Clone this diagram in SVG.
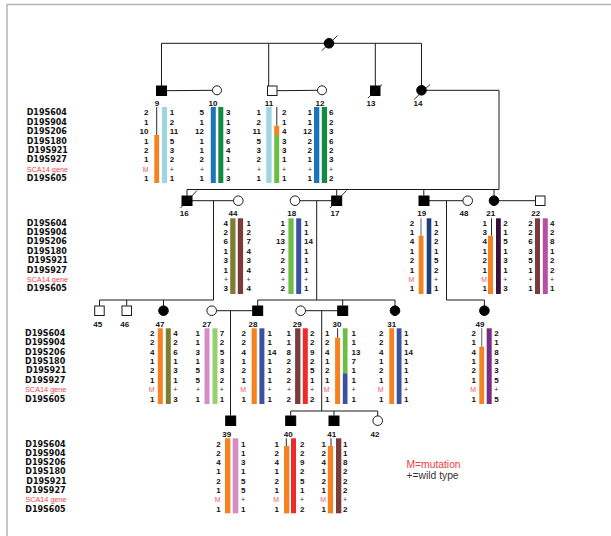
<svg xmlns="http://www.w3.org/2000/svg" width="611" height="536" viewBox="0 0 611 536">
<style>
.ln{stroke:#1a1a1a;stroke-width:1;fill:none}
.aff{fill:#000;stroke:#000;stroke-width:1}
.un{fill:#fff;stroke:#1a1a1a;stroke-width:1}
.sl{stroke:#1a1a1a;stroke-width:0.9}
.thin{stroke:#2a2a2a;stroke-width:1}
.thg{stroke:#777;stroke-width:1.2}
.lab{font-family:"DejaVu Sans",sans-serif;font-weight:bold;font-size:8px;fill:#111}
.sca{font-family:"Liberation Sans",Arial,sans-serif;font-size:7.3px;fill:#f04a4a;font-weight:normal}
.n{font-family:"Liberation Sans",Arial,sans-serif;font-weight:bold;font-size:8px;fill:#111}
.e{text-anchor:end}
.m{font-weight:normal;fill:#f25a5a;font-size:7px}
.p{font-weight:normal;font-size:7px;fill:#333}
.id{font-family:"Liberation Sans",Arial,sans-serif;font-weight:bold;font-size:8px;fill:#111;text-anchor:middle}
.leg{font-family:"Liberation Sans",Arial,sans-serif;font-size:10.3px}
.or{fill:#f5821f}.lb{fill:#9dd5e3}.bl{fill:#1b75bb}.dg{fill:#128a43}.gr{fill:#6cbd45}
.ol{fill:#7d7d32}.br{fill:#7b3b3b}.nb{fill:#3a50a0}.nv{fill:#1d3f7a}.dp{fill:#3b0f3b}
.mg{fill:#b550a5}.pk{fill:#d48ec4}.lg{fill:#96d070}.rd{fill:#ee2a2a}.pu{fill:#7a2c85}
</style>
<path d="M7,536 V4.5 H611" fill="none" stroke="#b4b4b4" stroke-width="1.5"/>

<g id="connectors" class="ln">
<path d="M161.5,43.3 H421.5"/>
<path d="M161.5,43.3 V86"/>
<path d="M268.7,43.3 V86"/>
<path d="M375.3,43.3 V86"/>
<path d="M421.5,43.3 V85.5"/>
<path d="M166,90.7 L212.5,90.3"/>
<path d="M277,90.7 L317.5,90.3"/>
<path d="M426,90.3 H499 V189.5"/>
<path d="M187,189.5 H499"/>
<path d="M187,189.5 V195.7"/>
<path d="M336.7,189.5 V195.7"/>
<path d="M423.8,189.5 V195.7"/>
<path d="M494,189.5 V196"/>
<path d="M192,200.7 H233.5"/>
<path d="M213.5,200.7 V300"/>
<path d="M300,200.7 H331.7"/>
<path d="M316.7,200.7 V300"/>
<path d="M429,200.7 H463"/>
<path d="M446.5,200.7 V300 H484.4 V306"/>
<path d="M499,200.7 H535.3"/>
<path d="M99.5,300 H213.5"/>
<path d="M99.5,300 V305.7"/>
<path d="M126.7,300 V305.7"/>
<path d="M163.5,300 V306"/>
<path d="M257.7,300 H395"/>
<path d="M257.7,300 V305.7"/>
<path d="M342.7,300 V305.7"/>
<path d="M395,300 V306"/>
<path d="M216.5,310.7 H252.7"/>
<path d="M230.5,310.7 V415.7"/>
<path d="M305.5,310.7 H337.7"/>
<path d="M321.7,310.7 V411"/>
<path d="M290.7,411 H377.7"/>
<path d="M290.7,411 V415.7"/>
<path d="M334,411 V415.7"/>
<path d="M377.7,411 V416"/>
</g>

<g id="labels-g1" class="lab">
<text x="26.7" y="115.4">D19S604</text>
<text x="26.7" y="124.8">D19S904</text>
<text x="26.7" y="134.2">D19S206</text>
<text x="26.7" y="143.6">D19S180</text>
<text x="27.7" y="153">D19S921</text>
<text x="26.7" y="162.4">D19S927</text>
<text class="sca" x="26.7" y="171.8">SCA14 gene</text>
<text x="26.7" y="181.2">D19S605</text>
</g>
<g id="labels-g2" class="lab">
<text x="26.7" y="225.6">D19S604</text>
<text x="26.7" y="235">D19S904</text>
<text x="26.7" y="244.4">D19S206</text>
<text x="26.7" y="253.8">D19S180</text>
<text x="27.7" y="263.2">D19S921</text>
<text x="26.7" y="272.6">D19S927</text>
<text class="sca" x="26.7" y="282">SCA14 gene</text>
<text x="26.7" y="291.4">D19S605</text>
</g>
<g id="labels-g3" class="lab">
<text x="25" y="335.8">D19S604</text>
<text x="25" y="345.2">D19S904</text>
<text x="25" y="354.6">D19S206</text>
<text x="25" y="364">D19S180</text>
<text x="26" y="373.4">D19S921</text>
<text x="25" y="382.8">D19S927</text>
<text class="sca" x="25" y="392.2">SCA14 gene</text>
<text x="25" y="401.6">D19S605</text>
</g>
<g id="labels-g4" class="lab">
<text x="25.3" y="446.5">D19S604</text>
<text x="25.3" y="455.8">D19S904</text>
<text x="25.3" y="465.1">D19S206</text>
<text x="25.3" y="474.4">D19S180</text>
<text x="26.3" y="483.7">D19S921</text>
<text x="25.3" y="493">D19S927</text>
<text class="sca" x="25.3" y="502.3">SCA14 gene</text>
<text x="25.3" y="511.6">D19S605</text>
</g>

<g id="node-founder">
<circle class="aff" cx="329" cy="43.3" r="4.8"/>
<line class="sl" x1="321.7" y1="50.7" x2="337.3" y2="35.7"/>
</g>

<g id="node-9">
<rect class="aff" x="156.5" y="86" width="10" height="9.5"/>
<text class="id" x="157" y="106">9</text>
<rect class="or" x="154.3" y="135" width="4.8" height="48"/>
<line class="thin" x1="156.7" y1="107" x2="156.7" y2="135"/>
<rect class="lb" x="162" y="107" width="5" height="76"/>
<text class="n e"><tspan x="148.5" y="115.4">2</tspan><tspan x="148.5" dy="9.4">1</tspan><tspan x="148.5" dy="9.4">10</tspan><tspan x="148.5" dy="9.4">1</tspan><tspan x="148.5" dy="9.4">2</tspan><tspan x="148.5" dy="9.4">1</tspan><tspan class="m" x="148.5" dy="9.4">M</tspan><tspan x="148.5" dy="9.4">1</tspan></text>
<text class="n"><tspan x="169.8" y="115.4">1</tspan><tspan x="169.8" dy="9.4">2</tspan><tspan x="169.8" dy="9.4">11</tspan><tspan x="169.8" dy="9.4">5</tspan><tspan x="169.8" dy="9.4">3</tspan><tspan x="169.8" dy="9.4">2</tspan><tspan class="p" x="169.8" dy="9.4">+</tspan><tspan x="169.8" dy="9.4">1</tspan></text>
</g>

<g id="node-10">
<circle class="un" cx="217" cy="90.3" r="4.5"/>
<text class="id" x="213" y="106">10</text>
<rect class="bl" x="210.8" y="107" width="5" height="76"/>
<rect class="dg" x="218.3" y="107" width="5" height="76"/>
<text class="n e"><tspan x="204" y="115.4">5</tspan><tspan x="204" dy="9.4">1</tspan><tspan x="204" dy="9.4">12</tspan><tspan x="204" dy="9.4">1</tspan><tspan x="204" dy="9.4">1</tspan><tspan x="204" dy="9.4">2</tspan><tspan class="p" x="204" dy="9.4">+</tspan><tspan x="204" dy="9.4">1</tspan></text>
<text class="n"><tspan x="226" y="115.4">3</tspan><tspan x="226" dy="9.4">1</tspan><tspan x="226" dy="9.4">3</tspan><tspan x="226" dy="9.4">6</tspan><tspan x="226" dy="9.4">4</tspan><tspan x="226" dy="9.4">1</tspan><tspan class="p" x="226" dy="9.4">+</tspan><tspan x="226" dy="9.4">3</tspan></text>
</g>

<g id="node-11">
<rect class="un" x="267.5" y="86" width="9.5" height="9.5"/>
<text class="id" x="269" y="106">11</text>
<rect class="lb" x="266.3" y="107" width="5.3" height="76"/>
<line class="thin" x1="276.8" y1="107" x2="276.8" y2="125.7"/>
<rect class="or" x="274.2" y="125.7" width="5" height="9.3"/>
<rect class="gr" x="274.2" y="135" width="5" height="48"/>
<text class="n e"><tspan x="261" y="115.4">1</tspan><tspan x="261" dy="9.4">2</tspan><tspan x="261" dy="9.4">11</tspan><tspan x="261" dy="9.4">5</tspan><tspan x="261" dy="9.4">3</tspan><tspan x="261" dy="9.4">2</tspan><tspan class="p" x="261" dy="9.4">+</tspan><tspan x="261" dy="9.4">1</tspan></text>
<text class="n"><tspan x="282" y="115.4">2</tspan><tspan x="282" dy="9.4">1</tspan><tspan x="282" dy="9.4">4</tspan><tspan x="282" dy="9.4">3</tspan><tspan x="282" dy="9.4">3</tspan><tspan x="282" dy="9.4">1</tspan><tspan class="p" x="282" dy="9.4">+</tspan><tspan x="282" dy="9.4">1</tspan></text>
</g>

<g id="node-12">
<circle class="un" cx="322" cy="90.3" r="4.5"/>
<text class="id" x="320" y="106">12</text>
<rect class="bl" x="314" y="107" width="5.3" height="76"/>
<rect class="dg" x="321.8" y="107" width="5.3" height="76"/>
<text class="n e"><tspan x="312" y="115.4">1</tspan><tspan x="312" dy="9.4">1</tspan><tspan x="312" dy="9.4">12</tspan><tspan x="312" dy="9.4">2</tspan><tspan x="312" dy="9.4">2</tspan><tspan x="312" dy="9.4">1</tspan><tspan class="p" x="312" dy="9.4">+</tspan><tspan x="312" dy="9.4">1</tspan></text>
<text class="n"><tspan x="329" y="115.4">6</tspan><tspan x="329" dy="9.4">2</tspan><tspan x="329" dy="9.4">3</tspan><tspan x="329" dy="9.4">6</tspan><tspan x="329" dy="9.4">2</tspan><tspan x="329" dy="9.4">3</tspan><tspan class="p" x="329" dy="9.4">+</tspan><tspan x="329" dy="9.4">2</tspan></text>
</g>

<g id="node-13">
<rect class="aff" x="370.5" y="86" width="9.5" height="9.5"/>
<line class="sl" x1="368" y1="98" x2="382" y2="84.5"/>
<text class="id" x="371" y="106">13</text>
</g>

<g id="node-14">
<circle class="aff" cx="421.5" cy="90.3" r="4.8"/>
<line class="sl" x1="414" y1="99.5" x2="430" y2="84.5"/>
<text class="id" x="418" y="106">14</text>
</g>

<g id="node-16">
<rect class="aff" x="182" y="196" width="10" height="9.5"/>
<line class="sl" x1="180.5" y1="208" x2="197" y2="190.5"/>
<text class="id" x="184.3" y="216">16</text>
</g>

<g id="node-44">
<circle class="un" cx="238.3" cy="200.7" r="4.8"/>
<text class="id" x="233" y="215.6">44</text>
<rect class="ol" x="230.2" y="218.3" width="5.3" height="75.7"/>
<rect class="br" x="237.8" y="218.3" width="5.3" height="75.7"/>
<text class="n e"><tspan x="228" y="225.6">4</tspan><tspan x="228" dy="9.4">2</tspan><tspan x="228" dy="9.4">6</tspan><tspan x="228" dy="9.4">1</tspan><tspan x="228" dy="9.4">3</tspan><tspan x="228" dy="9.4">1</tspan><tspan class="p" x="228" dy="9.4">+</tspan><tspan x="228" dy="9.4">3</tspan></text>
<text class="n"><tspan x="246.5" y="225.6">1</tspan><tspan x="246.5" dy="9.4">2</tspan><tspan x="246.5" dy="9.4">7</tspan><tspan x="246.5" dy="9.4">4</tspan><tspan x="246.5" dy="9.4">3</tspan><tspan x="246.5" dy="9.4">4</tspan><tspan class="p" x="246.5" dy="9.4">+</tspan><tspan x="246.5" dy="9.4">4</tspan></text>
</g>

<g id="node-18">
<circle class="un" cx="295" cy="200.7" r="4.8"/>
<text class="id" x="291.7" y="215.6">18</text>
<rect class="gr" x="288.4" y="218.3" width="5.2" height="75.7"/>
<rect class="nb" x="296.2" y="218.3" width="5" height="75.7"/>
<text class="n e"><tspan x="285" y="225.6">1</tspan><tspan x="285" dy="9.4">2</tspan><tspan x="285" dy="9.4">13</tspan><tspan x="285" dy="9.4">7</tspan><tspan x="285" dy="9.4">2</tspan><tspan x="285" dy="9.4">2</tspan><tspan class="p" x="285" dy="9.4">+</tspan><tspan x="285" dy="9.4">2</tspan></text>
<text class="n"><tspan x="304" y="225.6">1</tspan><tspan x="304" dy="9.4">1</tspan><tspan x="304" dy="9.4">14</tspan><tspan x="304" dy="9.4">1</tspan><tspan x="304" dy="9.4">1</tspan><tspan x="304" dy="9.4">1</tspan><tspan class="p" x="304" dy="9.4">+</tspan><tspan x="304" dy="9.4">1</tspan></text>
</g>

<g id="node-17">
<rect class="aff" x="331.7" y="196" width="10" height="9.5"/>
<line class="sl" x1="330" y1="208" x2="346.5" y2="190.5"/>
<text class="id" x="335" y="216">17</text>
</g>

<g id="node-19">
<rect class="aff" x="419" y="196" width="10" height="9.5"/>
<text class="id" x="421.7" y="216">19</text>
<line class="thg" x1="421" y1="218.3" x2="421" y2="235.7"/>
<rect class="or" x="418.7" y="235.7" width="4.8" height="58.3"/>
<rect class="nv" x="426.7" y="218.3" width="4.6" height="75.7"/>
<text class="n e"><tspan x="414.3" y="225.6">2</tspan><tspan x="414.3" dy="9.4">1</tspan><tspan x="414.3" dy="9.4">4</tspan><tspan x="414.3" dy="9.4">1</tspan><tspan x="414.3" dy="9.4">2</tspan><tspan x="414.3" dy="9.4">1</tspan><tspan class="m" x="414.3" dy="9.4">M</tspan><tspan x="414.3" dy="9.4">1</tspan></text>
<text class="n"><tspan x="434" y="225.6">1</tspan><tspan x="434" dy="9.4">2</tspan><tspan x="434" dy="9.4">2</tspan><tspan x="434" dy="9.4">1</tspan><tspan x="434" dy="9.4">5</tspan><tspan x="434" dy="9.4">2</tspan><tspan class="p" x="434" dy="9.4">+</tspan><tspan x="434" dy="9.4">1</tspan></text>
</g>

<g id="node-48">
<circle class="un" cx="467.7" cy="200.7" r="4.8"/>
<text class="id" x="464" y="216">48</text>
</g>

<g id="node-21">
<circle class="aff" cx="494" cy="200.7" r="4.8"/>
<text class="id" x="490.7" y="215.6">21</text>
<line class="thin" x1="491.5" y1="218.3" x2="491.5" y2="235.7"/>
<rect class="or" x="488" y="235.7" width="5" height="58.3"/>
<rect class="dp" x="496" y="218.3" width="4.8" height="75.7"/>
<text class="n e"><tspan x="487" y="225.6">1</tspan><tspan x="487" dy="9.4">3</tspan><tspan x="487" dy="9.4">4</tspan><tspan x="487" dy="9.4">1</tspan><tspan x="487" dy="9.4">2</tspan><tspan x="487" dy="9.4">1</tspan><tspan class="m" x="487" dy="9.4">M</tspan><tspan x="487" dy="9.4">1</tspan></text>
<text class="n"><tspan x="503.3" y="225.6">2</tspan><tspan x="503.3" dy="9.4">1</tspan><tspan x="503.3" dy="9.4">5</tspan><tspan x="503.3" dy="9.4">1</tspan><tspan x="503.3" dy="9.4">3</tspan><tspan x="503.3" dy="9.4">1</tspan><tspan class="p" x="503.3" dy="9.4">+</tspan><tspan x="503.3" dy="9.4">3</tspan></text>
</g>

<g id="node-22">
<rect class="un" x="535.5" y="196" width="9.5" height="9.5"/>
<text class="id" x="535.7" y="215.6">22</text>
<rect class="br" x="535" y="218.3" width="5" height="75.7"/>
<rect class="mg" x="542.8" y="218.3" width="5" height="75.7"/>
<text class="n e"><tspan x="532.7" y="225.6">2</tspan><tspan x="532.7" dy="9.4">2</tspan><tspan x="532.7" dy="9.4">6</tspan><tspan x="532.7" dy="9.4">3</tspan><tspan x="532.7" dy="9.4">5</tspan><tspan x="532.7" dy="9.4">1</tspan><tspan class="p" x="532.7" dy="9.4">+</tspan><tspan x="532.7" dy="9.4">1</tspan></text>
<text class="n"><tspan x="550" y="225.6">4</tspan><tspan x="550" dy="9.4">2</tspan><tspan x="550" dy="9.4">8</tspan><tspan x="550" dy="9.4">1</tspan><tspan x="550" dy="9.4">2</tspan><tspan x="550" dy="9.4">2</tspan><tspan class="p" x="550" dy="9.4">+</tspan><tspan x="550" dy="9.4">1</tspan></text>
</g>

<g id="node-45">
<rect class="un" x="94.7" y="306" width="9.5" height="9.5"/>
<text class="id" x="97.7" y="326.5">45</text>
</g>
<g id="node-46">
<rect class="un" x="122" y="306" width="9.5" height="9.5"/>
<text class="id" x="124.7" y="326.5">46</text>
</g>

<g id="node-47">
<circle class="aff" cx="163.5" cy="310.7" r="4.8"/>
<text class="id" x="160" y="326.5">47</text>
<rect class="or" x="157.8" y="328.3" width="5" height="75.7"/>
<rect class="ol" x="165.8" y="328.3" width="5" height="75.7"/>
<text class="n e"><tspan x="154.5" y="335.8">2</tspan><tspan x="154.5" dy="9.4">2</tspan><tspan x="154.5" dy="9.4">4</tspan><tspan x="154.5" dy="9.4">1</tspan><tspan x="154.5" dy="9.4">2</tspan><tspan x="154.5" dy="9.4">1</tspan><tspan class="m" x="154.5" dy="9.4">M</tspan><tspan x="154.5" dy="9.4">1</tspan></text>
<text class="n"><tspan x="173.3" y="335.8">4</tspan><tspan x="173.3" dy="9.4">2</tspan><tspan x="173.3" dy="9.4">6</tspan><tspan x="173.3" dy="9.4">1</tspan><tspan x="173.3" dy="9.4">3</tspan><tspan x="173.3" dy="9.4">1</tspan><tspan class="p" x="173.3" dy="9.4">+</tspan><tspan x="173.3" dy="9.4">3</tspan></text>
</g>

<g id="node-27">
<circle class="un" cx="211.7" cy="310.7" r="4.8"/>
<text class="id" x="206.7" y="326.5">27</text>
<rect class="pk" x="204.5" y="328.3" width="5" height="75.7"/>
<rect class="lg" x="212.5" y="328.3" width="5" height="75.7"/>
<text class="n e"><tspan x="200" y="335.8">1</tspan><tspan x="200" dy="9.4">1</tspan><tspan x="200" dy="9.4">3</tspan><tspan x="200" dy="9.4">1</tspan><tspan x="200" dy="9.4">5</tspan><tspan x="200" dy="9.4">5</tspan><tspan class="p" x="200" dy="9.4">+</tspan><tspan x="200" dy="9.4">1</tspan></text>
<text class="n"><tspan x="219.8" y="335.8">7</tspan><tspan x="219.8" dy="9.4">2</tspan><tspan x="219.8" dy="9.4">5</tspan><tspan x="219.8" dy="9.4">3</tspan><tspan x="219.8" dy="9.4">3</tspan><tspan x="219.8" dy="9.4">2</tspan><tspan class="p" x="219.8" dy="9.4">+</tspan><tspan x="219.8" dy="9.4">1</tspan></text>
</g>

<g id="node-28">
<rect class="aff" x="252.7" y="306" width="10" height="9.5"/>
<text class="id" x="253" y="326.5">28</text>
<rect class="or" x="251.6" y="328.3" width="5.2" height="75.7"/>
<rect class="nb" x="259.4" y="328.3" width="5" height="75.7"/>
<text class="n e"><tspan x="246" y="335.8">2</tspan><tspan x="246" dy="9.4">2</tspan><tspan x="246" dy="9.4">4</tspan><tspan x="246" dy="9.4">1</tspan><tspan x="246" dy="9.4">2</tspan><tspan x="246" dy="9.4">1</tspan><tspan class="m" x="246" dy="9.4">M</tspan><tspan x="246" dy="9.4">1</tspan></text>
<text class="n"><tspan x="267.5" y="335.8">1</tspan><tspan x="267.5" dy="9.4">1</tspan><tspan x="267.5" dy="9.4">14</tspan><tspan x="267.5" dy="9.4">1</tspan><tspan x="267.5" dy="9.4">1</tspan><tspan x="267.5" dy="9.4">1</tspan><tspan class="p" x="267.5" dy="9.4">+</tspan><tspan x="267.5" dy="9.4">1</tspan></text>
</g>

<g id="node-29">
<circle class="un" cx="300.7" cy="310.7" r="4.8"/>
<text class="id" x="297.3" y="326.5">29</text>
<rect class="br" x="295.1" y="328.3" width="5.3" height="75.7"/>
<rect class="rd" x="302.8" y="328.3" width="5" height="75.7"/>
<text class="n e"><tspan x="291" y="335.8">1</tspan><tspan x="291" dy="9.4">1</tspan><tspan x="291" dy="9.4">8</tspan><tspan x="291" dy="9.4">2</tspan><tspan x="291" dy="9.4">2</tspan><tspan x="291" dy="9.4">2</tspan><tspan class="p" x="291" dy="9.4">+</tspan><tspan x="291" dy="9.4">2</tspan></text>
<text class="n"><tspan x="310" y="335.8">2</tspan><tspan x="310" dy="9.4">2</tspan><tspan x="310" dy="9.4">9</tspan><tspan x="310" dy="9.4">2</tspan><tspan x="310" dy="9.4">5</tspan><tspan x="310" dy="9.4">1</tspan><tspan class="p" x="310" dy="9.4">+</tspan><tspan x="310" dy="9.4">2</tspan></text>
</g>

<g id="node-30">
<rect class="aff" x="337.7" y="306" width="10" height="9.5"/>
<text class="id" x="337" y="326.5">30</text>
<line class="thin" x1="337.6" y1="328.3" x2="337.6" y2="337.7"/>
<rect class="or" x="335.1" y="337.7" width="5" height="66.3"/>
<rect class="gr" x="342.8" y="328.3" width="4.7" height="45"/>
<rect class="nb" x="342.8" y="373.3" width="4.7" height="30.7"/>
<text class="n e"><tspan x="329.5" y="335.8">1</tspan><tspan x="329.5" dy="9.4">2</tspan><tspan x="329.5" dy="9.4">4</tspan><tspan x="329.5" dy="9.4">1</tspan><tspan x="329.5" dy="9.4">2</tspan><tspan x="329.5" dy="9.4">1</tspan><tspan class="m" x="329.5" dy="9.4">M</tspan><tspan x="329.5" dy="9.4">1</tspan></text>
<text class="n"><tspan x="351.5" y="335.8">1</tspan><tspan x="351.5" dy="9.4">1</tspan><tspan x="351.5" dy="9.4">13</tspan><tspan x="351.5" dy="9.4">7</tspan><tspan x="351.5" dy="9.4">1</tspan><tspan x="351.5" dy="9.4">1</tspan><tspan class="p" x="351.5" dy="9.4">+</tspan><tspan x="351.5" dy="9.4">1</tspan></text>
</g>

<g id="node-31">
<circle class="aff" cx="395" cy="310.7" r="4.8"/>
<text class="id" x="391.7" y="326.5">31</text>
<rect class="or" x="389.3" y="328.3" width="4.8" height="75.7"/>
<rect class="nb" x="396.7" y="328.3" width="4.8" height="75.7"/>
<text class="n e"><tspan x="383.5" y="335.8">2</tspan><tspan x="383.5" dy="9.4">2</tspan><tspan x="383.5" dy="9.4">4</tspan><tspan x="383.5" dy="9.4">1</tspan><tspan x="383.5" dy="9.4">2</tspan><tspan x="383.5" dy="9.4">1</tspan><tspan class="m" x="383.5" dy="9.4">M</tspan><tspan x="383.5" dy="9.4">1</tspan></text>
<text class="n"><tspan x="404" y="335.8">1</tspan><tspan x="404" dy="9.4">1</tspan><tspan x="404" dy="9.4">14</tspan><tspan x="404" dy="9.4">1</tspan><tspan x="404" dy="9.4">1</tspan><tspan x="404" dy="9.4">1</tspan><tspan class="p" x="404" dy="9.4">+</tspan><tspan x="404" dy="9.4">1</tspan></text>
</g>

<g id="node-49">
<circle class="aff" cx="484.4" cy="310.7" r="4.8"/>
<text class="id" x="480" y="326.5">49</text>
<line class="thg" x1="481.7" y1="328.3" x2="481.7" y2="346.7"/>
<rect class="or" x="479.3" y="346.7" width="4.8" height="57.3"/>
<rect class="pu" x="486.7" y="328.3" width="5" height="75.7"/>
<text class="n e"><tspan x="476" y="335.8">2</tspan><tspan x="476" dy="9.4">1</tspan><tspan x="476" dy="9.4">4</tspan><tspan x="476" dy="9.4">1</tspan><tspan x="476" dy="9.4">2</tspan><tspan x="476" dy="9.4">1</tspan><tspan class="m" x="476" dy="9.4">M</tspan><tspan x="476" dy="9.4">1</tspan></text>
<text class="n"><tspan x="494.3" y="335.8">2</tspan><tspan x="494.3" dy="9.4">1</tspan><tspan x="494.3" dy="9.4">8</tspan><tspan x="494.3" dy="9.4">3</tspan><tspan x="494.3" dy="9.4">3</tspan><tspan x="494.3" dy="9.4">5</tspan><tspan class="p" x="494.3" dy="9.4">+</tspan><tspan x="494.3" dy="9.4">5</tspan></text>
</g>

<g id="node-39">
<rect class="aff" x="225.7" y="416" width="10" height="9.5"/>
<text class="id" x="226.7" y="436.5">39</text>
<rect class="or" x="225" y="438.3" width="5.4" height="75"/>
<rect class="pk" x="232.7" y="438.3" width="5.6" height="75"/>
<text class="n e"><tspan x="220.7" y="446.5">2</tspan><tspan x="220.7" dy="9.3">2</tspan><tspan x="220.7" dy="9.3">4</tspan><tspan x="220.7" dy="9.3">1</tspan><tspan x="220.7" dy="9.3">2</tspan><tspan x="220.7" dy="9.3">1</tspan><tspan class="m" x="220.7" dy="9.3">M</tspan><tspan x="220.7" dy="9.3">1</tspan></text>
<text class="n"><tspan x="241" y="446.5">1</tspan><tspan x="241" dy="9.3">1</tspan><tspan x="241" dy="9.3">3</tspan><tspan x="241" dy="9.3">1</tspan><tspan x="241" dy="9.3">5</tspan><tspan x="241" dy="9.3">5</tspan><tspan class="p" x="241" dy="9.3">+</tspan><tspan x="241" dy="9.3">1</tspan></text>
</g>

<g id="node-40">
<rect class="aff" x="285.7" y="416" width="10" height="9.5"/>
<text class="id" x="288.3" y="436.5">40</text>
<line class="thin" x1="286.3" y1="438.3" x2="286.3" y2="446"/>
<rect class="or" x="284" y="446" width="5.3" height="67.3"/>
<rect class="rd" x="291" y="438.3" width="5" height="75"/>
<text class="n e"><tspan x="279" y="446.5">1</tspan><tspan x="279" dy="9.3">2</tspan><tspan x="279" dy="9.3">4</tspan><tspan x="279" dy="9.3">1</tspan><tspan x="279" dy="9.3">2</tspan><tspan x="279" dy="9.3">1</tspan><tspan class="m" x="279" dy="9.3">M</tspan><tspan x="279" dy="9.3">1</tspan></text>
<text class="n"><tspan x="300" y="446.5">2</tspan><tspan x="300" dy="9.3">2</tspan><tspan x="300" dy="9.3">9</tspan><tspan x="300" dy="9.3">2</tspan><tspan x="300" dy="9.3">5</tspan><tspan x="300" dy="9.3">1</tspan><tspan class="p" x="300" dy="9.3">+</tspan><tspan x="300" dy="9.3">2</tspan></text>
</g>

<g id="node-41">
<rect class="aff" x="329" y="416" width="10" height="9.5"/>
<text class="id" x="331.7" y="436.5">41</text>
<line class="thin" x1="331" y1="438.3" x2="331" y2="446"/>
<rect class="or" x="327.8" y="446" width="5.3" height="67.3"/>
<rect class="br" x="336" y="438.3" width="5.3" height="75"/>
<text class="n e"><tspan x="326" y="446.5">1</tspan><tspan x="326" dy="9.3">2</tspan><tspan x="326" dy="9.3">4</tspan><tspan x="326" dy="9.3">1</tspan><tspan x="326" dy="9.3">2</tspan><tspan x="326" dy="9.3">1</tspan><tspan class="m" x="326" dy="9.3">M</tspan><tspan x="326" dy="9.3">1</tspan></text>
<text class="n"><tspan x="343" y="446.5">1</tspan><tspan x="343" dy="9.3">1</tspan><tspan x="343" dy="9.3">8</tspan><tspan x="343" dy="9.3">2</tspan><tspan x="343" dy="9.3">2</tspan><tspan x="343" dy="9.3">2</tspan><tspan class="p" x="343" dy="9.3">+</tspan><tspan x="343" dy="9.3">2</tspan></text>
</g>

<g id="node-42">
<circle class="un" cx="377.7" cy="420.7" r="4.8"/>
<text class="id" x="375" y="436.5">42</text>
</g>

<g id="legend" class="leg">
<text x="406.5" y="468" fill="#f03c3c">M=mutation</text>
<text x="406.5" y="479" fill="#333">+=wild type</text>
</g>
</svg>
